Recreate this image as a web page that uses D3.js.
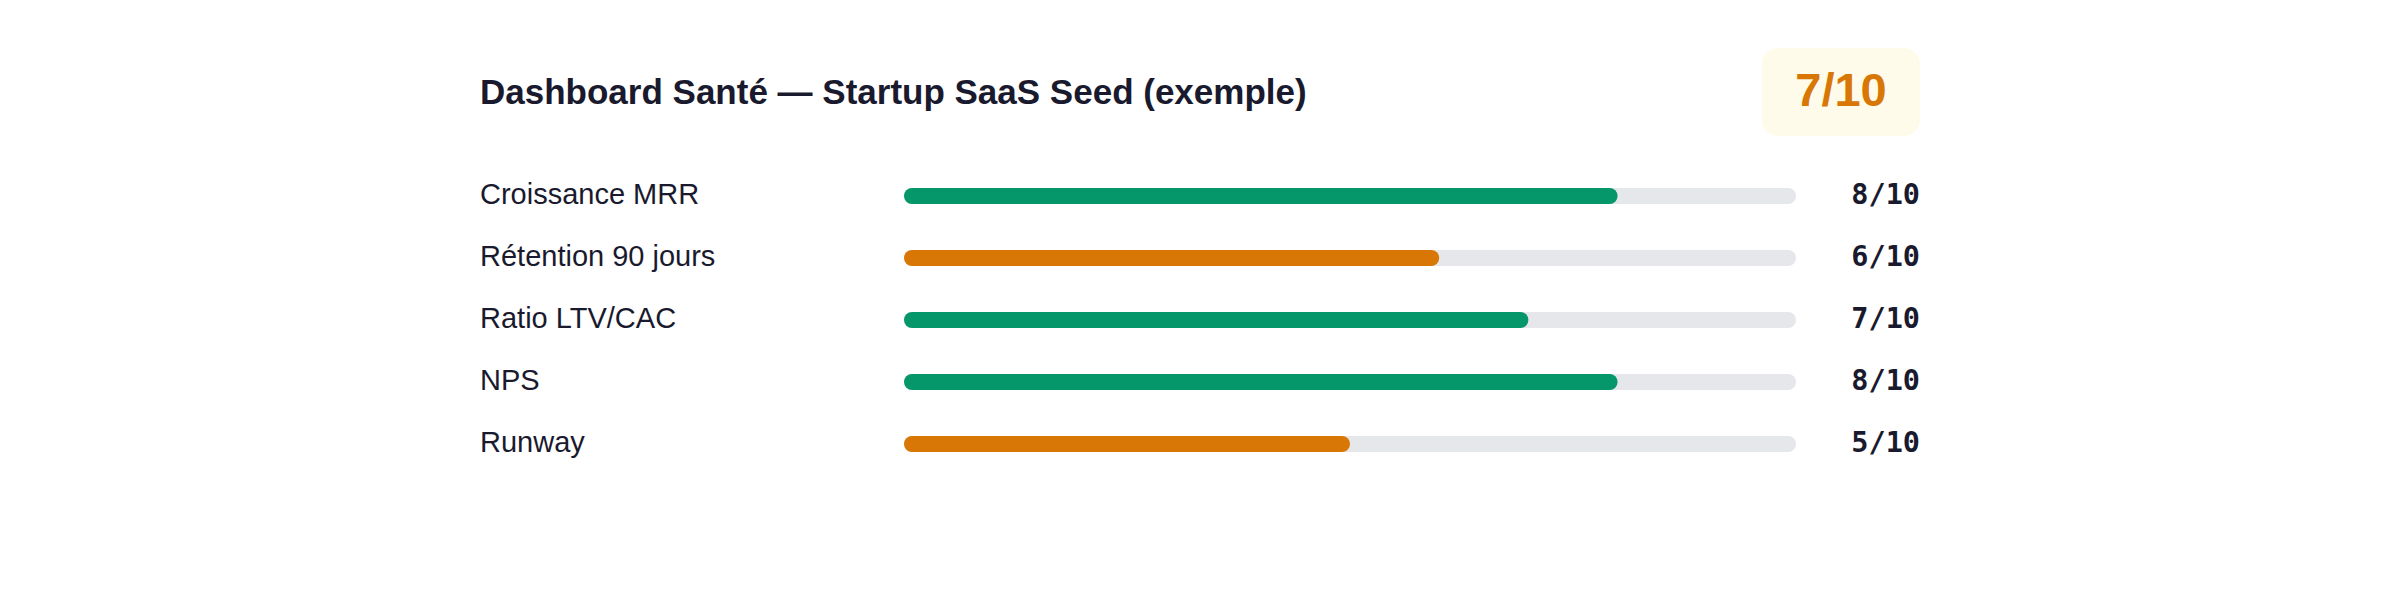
<!DOCTYPE html>
<html lang="fr">
  <head>
    <meta charset="UTF-8" />
    <script src="https://d3js.org/d3.v7.min.js"></script>
    <title>Dashboard Santé</title>
    <style>
      body {
        margin: 0;
        background: #ffffff;
      }
      .title {
        font-family: "Liberation Sans", Arial, sans-serif;
        font-weight: 700;
        font-size: 35px;
        fill: #1a1a2e;
      }
      .label {
        font-family: "Liberation Sans", Arial, sans-serif;
        font-size: 29px;
        fill: #1a1a2e;
      }
      .value {
        font-family: "DejaVu Sans Mono", monospace;
        font-weight: 700;
        font-size: 28.5px;
        fill: #1a1a2e;
      }
      .badge-text {
        font-family: "Liberation Sans", Arial, sans-serif;
        font-weight: 700;
        font-size: 47px;
        fill: #d97706;
      }
    </style>
  </head>
  <body>
    <svg width="2400" height="590"></svg>
    <script>
      // données
      const titre = "Dashboard Santé — Startup SaaS Seed (exemple)";
      const scoreGlobal = 7;
      const scoreMax = 10;
      const criteres = ["Croissance MRR", "Rétention 90 jours", "Ratio LTV/CAC", "NPS", "Runway"];
      const notes = [8, 6, 7, 8, 5];

      const green = "#059669";
      const orange = "#d97706";
      const track = "#e5e7eb";

      const svg = d3.select("svg");

      // échelles
      const x = d3.scaleLinear().domain([0, scoreMax]).range([904, 1796]);
      const y = d3.scalePoint().domain(criteres).range([196, 444]);
      const barH = 16;

      // titre
      svg.append("text")
        .attr("class", "title")
        .attr("x", 480)
        .attr("y", 104)
        .text(titre);

      // badge du score global
      const badge = svg.append("g").attr("transform", "translate(1762, 48)");
      badge.append("rect")
        .attr("width", 158)
        .attr("height", 88)
        .attr("rx", 16)
        .attr("fill", "#fffbeb");
      badge.append("text")
        .attr("class", "badge-text")
        .attr("x", 79)
        .attr("y", 58)
        .attr("text-anchor", "middle")
        .text(`${scoreGlobal}/${scoreMax}`);

      const rows = svg.selectAll("g.row")
        .data(criteres)
        .enter()
        .append("g")
        .attr("class", "row");

      rows.append("text")
        .attr("class", "label")
        .attr("x", 480)
        .attr("y", (d) => y(d) + 8)
        .text((d) => d);

      rows.append("rect")
        .attr("x", x(0))
        .attr("y", (d) => y(d) - barH / 2)
        .attr("width", x(scoreMax) - x(0))
        .attr("height", barH)
        .attr("rx", barH / 2)
        .attr("fill", track);

      rows.append("rect")
        .attr("x", x(0))
        .attr("y", (d) => y(d) - barH / 2)
        .attr("width", (d, i) => x(notes[i]) - x(0))
        .attr("height", barH)
        .attr("rx", barH / 2)
        .attr("fill", (d, i) => (notes[i] >= 7 ? green : orange));

      rows.append("text")
        .attr("class", "value")
        .attr("x", 1920)
        .attr("y", (d) => y(d) + 8)
        .attr("text-anchor", "end")
        .text((d, i) => `${notes[i]}/${scoreMax}`);
    </script>
  </body>
</html>
